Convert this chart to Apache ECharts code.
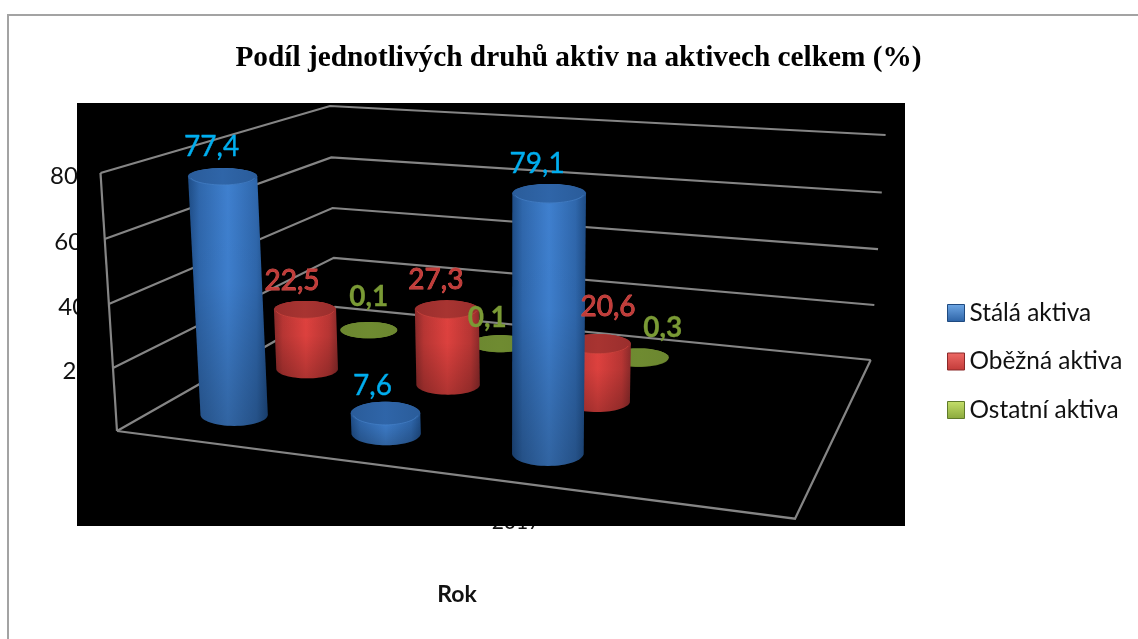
<!DOCTYPE html>
<html>
<head>
<meta charset="utf-8">
<script src="https://cdn.jsdelivr.net/npm/echarts@6/dist/echarts.min.js"></script>
<style>
html,body{margin:0;padding:0;background:#fff}
#chart{width:1138px;height:639px}
</style>
</head>
<body>
<div id="chart"></div>
<script>
// Chart data
const categories = ['', '', '2017', ''];
const seriesNames = ['Stálá aktiva', 'Oběžná aktiva', 'Ostatní aktiva'];
const stalaAktiva = [77.4, 7.6, 79.1];
const obeznaAktiva = [22.5, 27.3, 20.6];
const ostatniAktiva = [0.1, 0.1, 0.3];
const valueTicks = [0, 20, 40, 60, 80];
const chartTitle = 'Podíl jednotlivých druhů aktiv na aktivech celkem (%)';
const categoryAxisName = 'Rok';

// Corners of the perspective box: front-left, front-right, back-right, back-left
const floorCorners = [[117, 431], [795, 518.7], [870.7, 360], [335, 307]];
const topCorners = [[100.5, 173], [817, 225], [885.6, 135], [330, 106]];

// Unit square to quadrilateral mapping
function makeHomography(q) {
  const [p0, p1, p2, p3] = q;
  const dx1 = p1[0] - p2[0], dx2 = p3[0] - p2[0], sx = p0[0] - p1[0] + p2[0] - p3[0];
  const dy1 = p1[1] - p2[1], dy2 = p3[1] - p2[1], sy = p0[1] - p1[1] + p2[1] - p3[1];
  const den = dx1 * dy2 - dx2 * dy1;
  const g = (sx * dy2 - dx2 * sy) / den;
  const h = (dx1 * sy - sx * dy1) / den;
  const a = p1[0] - p0[0] + g * p1[0], b = p3[0] - p0[0] + h * p3[0];
  const d = p1[1] - p0[1] + g * p1[1], e = p3[1] - p0[1] + h * p3[1];
  return (u, v) => {
    const w = g * u + h * v + 1;
    return [(a * u + b * v + p0[0]) / w, (d * u + e * v + p0[1]) / w, w];
  };
}
const floorAt = makeHomography(floorCorners);
const topAt = makeHomography(topCorners);

function project(u, v, t) {
  const f = floorAt(u, v), c = topAt(u, v);
  const s = t - 0.03 * t * (1 - t);
  return [f[0] + (c[0] - f[0]) * s, f[1] + (c[1] - f[1]) * s, f[2]];
}

// Turn a data point into box coordinates through the hidden cartesian axes
function toBox(api, cs, category, value) {
  const pt = api.coord([category, value]);
  return { u: (pt[0] - cs.x) / cs.width, t: (cs.y + cs.height - pt[1]) / cs.height };
}

function arc(cx, cy, rx, ry, from, to) {
  const pts = [];
  const n = 32;
  for (let i = 0; i <= n; i++) {
    const a = from + (to - from) * i / n;
    pts.push([cx + rx * Math.cos(a), cy + ry * Math.sin(a)]);
  }
  return pts;
}

const hGrad = (stops) => new echarts.graphic.LinearGradient(0, 0, 1, 0, stops);
const vGrad = (stops) => new echarts.graphic.LinearGradient(0, 0, 0, 1, stops);

const palettes = [
  { edge: '#1e4c85', side: '#2f67ac', mid: '#3f80cf', cap: '#2f65a8', capEdge: '#2a5c9a', rim: '#4683cc', text: '#00aeef', stroke: '#00aeef', sw: 0.4, weight: 'normal' },
  { edge: '#8a2a2a', side: '#b93634', mid: '#e0423f', cap: '#a83431', capEdge: '#9a2e2d', rim: '#d5463f', text: '#c23d3a', stroke: '#d85450', sw: 0.9, weight: 'normal' },
  { edge: '#6a8530', side: '#6f8b31', mid: '#72902f', cap: '#6f8b31', capEdge: '#6c8730', rim: '#6f8b31', text: '#7a9a35', stroke: '#7a9a35', sw: 0.3, weight: 'bold' }
];

// Hand-placed data label offsets from the top of each cylinder
const labelOffsets = [
  [[-11, -30], [-13, -27], [-12, -30]],
  [[-13, -29], [-11, -30], [10, -37]],
  [[0, -33], [-13, -26], [24, -29]]
];

function cylinderRenderer(row) {
  const v = (row + 0.5) / seriesNames.length;
  const pal = palettes[row];
  const order = 10 * (seriesNames.length - row);
  return function (params, api) {
    const cs = params.coordSys;
    const category = api.value(0), value = api.value(1);
    const base = toBox(api, cs, category, 0);
    const head = toBox(api, cs, category, value);
    const b = project(base.u, v, 0);
    const c = project(head.u, v, head.t);
    // The solid stops just short of its plotted height, flat discs excepted
    c[1] += 4 * Math.min(1, head.t * 12);
    const w = b[2];
    const rxB = 34.7 / w, ryB = 12 / (w * w);
    const rxT = rxB * (1 + 0.03 * head.t), ryT = ryB * (1 - 0.25 * head.t);
    const body = [
      ...arc(c[0], c[1], rxT, ryT, Math.PI, 2 * Math.PI),
      ...arc(b[0], b[1], rxB, ryB, 0, Math.PI)
    ];
    const sideFill = hGrad([
      { offset: 0, color: pal.edge },
      { offset: 0.14, color: pal.side },
      { offset: 0.5, color: pal.mid },
      { offset: 0.86, color: pal.side },
      { offset: 1, color: pal.edge }
    ]);
    const shade = vGrad([
      { offset: 0, color: 'rgba(0,0,0,0)' },
      { offset: 0.45, color: 'rgba(0,0,0,0.02)' },
      { offset: 1, color: 'rgba(0,0,0,0.22)' }
    ]);
    const capFill = hGrad([
      { offset: 0, color: pal.capEdge },
      { offset: 0.5, color: pal.cap },
      { offset: 1, color: pal.capEdge }
    ]);
    const off = labelOffsets[row][params.dataIndex];
    return {
      type: 'group',
      children: [
        { type: 'polygon', z2: order, shape: { points: body }, style: { fill: sideFill } },
        { type: 'polygon', z2: order + 1, shape: { points: body }, style: { fill: shade } },
        { type: 'polygon', z2: order + 2, shape: { points: arc(c[0], c[1], rxT, ryT, 0, 2 * Math.PI) }, style: { fill: capFill } },
        { type: 'polyline', z2: order + 3, shape: { points: arc(c[0], c[1], rxT * 0.94, ryT * 0.98, 0.2, Math.PI - 0.2) }, style: { fill: null, stroke: pal.rim, lineWidth: 1, opacity: 0.7 } },
        {
          type: 'text', z2: 100,
          style: {
            x: c[0] + off[0], y: c[1] + off[1], text: String(value).replace('.', ','),
            align: 'center', verticalAlign: 'middle',
            font: pal.weight + ' 28px Lato', fill: pal.text, stroke: pal.stroke, lineWidth: pal.sw
          }
        }
      ]
    };
  };
}

// Walls and floor of the box: one polyline per value tick
function gridRenderer(params, api) {
  const cs = params.coordSys;
  const { t } = toBox(api, cs, 0, api.value(0));
  const style = { fill: null, stroke: '#858585', lineWidth: 2.2 };
  const children = [{
    type: 'polyline', z2: 1,
    shape: { points: [project(0, 0, t), project(0, 1, t), project(1, 1, t)].map((p) => p.slice(0, 2)) },
    style
  }];
  if (t === 0) {
    children.push({
      type: 'polyline', z2: 1,
      shape: { points: [project(0, 0, 0), project(1, 0, 0), project(1, 1, 0)].map((p) => p.slice(0, 2)) },
      style
    });
  }
  if (params.dataIndex === valueTicks.length - 1) {
    children.push({
      type: 'line', z2: 1,
      shape: { x1: project(0, 0, 0)[0], y1: project(0, 0, 0)[1], x2: project(0, 0, 1)[0], y2: project(0, 0, 1)[1] },
      style
    });
  }
  return { type: 'group', children };
}

// Value labels sit beside the slanted left wall and run behind the plot backdrop
function tickLabelRenderer(params, api) {
  const cs = params.coordSys;
  const val = api.value(0);
  if (val === 0) return null;
  const { t } = toBox(api, cs, 0, val);
  const p = project(0, 0, t);
  return {
    type: 'text',
    style: {
      x: p[0] - 50.5, y: p[1] + 3, text: String(val), align: 'left', verticalAlign: 'middle',
      font: '24px Lato', fill: '#111'
    }
  };
}

const valueSeries = [stalaAktiva, obeznaAktiva, ostatniAktiva].map((vals, row) => ({
  type: 'custom',
  name: seriesNames[row],
  coordinateSystem: 'cartesian2d',
  renderItem: cylinderRenderer(row),
  silent: true,
  z: 3,
  encode: { x: 0, y: 1 },
  data: vals.map((val, i) => [i, val])
}));

const legendColors = [
  ['#6fa8e6', '#2c62a5', '#1f4a80'],
  ['#ee6a66', '#c23a38', '#8a2828'],
  ['#c5e06a', '#8aa83c', '#5f7a2a']
];

const chart = echarts.init(document.getElementById('chart'), null, { renderer: 'canvas' });
chart.setOption({
  animation: false,
  backgroundColor: '#fff',
  title: {
    text: chartTitle,
    left: 573.5, top: 39, textAlign: 'center',
    textStyle: { fontFamily: 'Liberation Serif', fontWeight: 'bold', fontSize: 29.3, color: '#000' }
  },
  grid: { left: 221, width: 472, top: 100, height: 400 },
  xAxis: {
    type: 'category',
    data: categories,
    z: 0,
    axisLine: { show: false },
    axisTick: { show: false },
    axisLabel: { interval: 0, margin: 12, fontFamily: 'Lato', fontSize: 21, color: '#111' },
    name: categoryAxisName,
    nameLocation: 'middle',
    nameGap: 83,
    nameTextStyle: { fontFamily: 'Lato', fontWeight: 'bold', fontSize: 23, color: '#111' }
  },
  yAxis: { type: 'value', min: 0, max: 80, interval: 20, show: false },
  legend: {
    orient: 'vertical',
    left: 942, top: 296,
    itemWidth: 17, itemHeight: 17, itemGap: 24.5,
    icon: 'rect',
    textStyle: { fontFamily: 'Lato', fontSize: 24.4, color: '#111', padding: 0 },
    selectedMode: false,
    data: seriesNames.map((name, i) => ({
      name,
      itemStyle: {
        color: vGrad([
          { offset: 0, color: legendColors[i][0] },
          { offset: 1, color: legendColors[i][1] }
        ]),
        borderColor: legendColors[i][2], borderWidth: 1
      }
    }))
  },
  graphic: {
    z: 1,
    elements: [
      { type: 'rect', z: 1, silent: true, shape: { x: 77, y: 103, width: 828, height: 423 }, style: { fill: '#000' } },
      { type: 'rect', z: 1, silent: true, shape: { x: 8, y: 15, width: 1300, height: 800 }, style: { fill: null, stroke: '#a3a3a3', lineWidth: 2 } }
    ]
  },
  series: [
    {
      type: 'custom', name: 'ticks', coordinateSystem: 'cartesian2d', silent: true, z: 0,
      renderItem: tickLabelRenderer, encode: { y: 0 }, data: valueTicks.map((t) => [t])
    },
    {
      type: 'custom', name: 'walls', coordinateSystem: 'cartesian2d', silent: true, z: 2,
      renderItem: gridRenderer, encode: { y: 0 }, data: valueTicks.map((t) => [t])
    },
    ...valueSeries
  ]
});
</script>
</body>
</html>
